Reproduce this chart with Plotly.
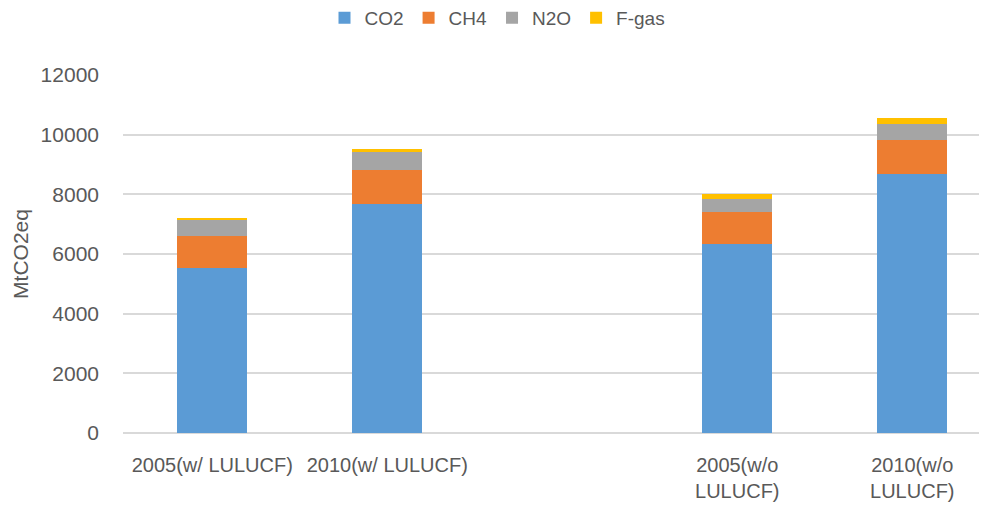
import plotly.graph_objects as go

categories = ["2005(w/ LULUCF)", "2010(w/ LULUCF)", " ", "2005(w/o<br>LULUCF)", "2010(w/o<br>LULUCF)"]
co2 = [5520, 7670, None, 6330, 8680]
ch4 = [1080, 1150, None, 1070, 1140]
n2o = [550, 590, None, 460, 540]
fgas = [50, 120, None, 140, 190]

series = [("CO2", co2, "#5B9BD5"), ("CH4", ch4, "#ED7D31"),
          ("N2O", n2o, "#A5A5A5"), ("F-gas", fgas, "#FFC000")]

font_family = "Liberation Sans, Arial, sans-serif"
txt = "#595959"

fig = go.Figure()
for name, vals, color in series:
    fig.add_trace(go.Bar(x=categories, y=vals, name=name, marker=dict(color=color, line=dict(width=0)),
                         width=0.4))

fig.update_layout(
    width=979, height=499,
    barmode="stack",
    paper_bgcolor="white", plot_bgcolor="white",
    margin=dict(l=115, r=0, t=67, b=74, autoexpand=False),
    font=dict(family=font_family, size=20, color=txt),
    legend=dict(orientation="h", x=0.5, xref="container", xanchor="center",
                y=1 - 10 / 499, yref="container", yanchor="middle",
                font=dict(size=19, color=txt), itemwidth=30, traceorder="normal"),
    xaxis=dict(type="category", categoryorder="array", categoryarray=categories,
               range=[-0.51, 4.427], showgrid=False, showline=False, ticks="",
               tickfont=dict(size=20, color=txt), tickangle=0, automargin=False,
               ticklabelstandoff=18),
    yaxis=dict(range=[0, 12000], dtick=2000, tickformat="d", showgrid=True, gridcolor="#D9D9D9", gridwidth=1.5,
               zeroline=True, zerolinecolor="#D9D9D9", zerolinewidth=1.5, showline=False,
               tickfont=dict(size=21, color=txt), ticks="", ticklen=0, automargin=False,
               ticklabelstandoff=23,
               title=dict(text="MtCO2eq", font=dict(size=21, color=txt), standoff=6)),
)

fig.write_html("out.html")
